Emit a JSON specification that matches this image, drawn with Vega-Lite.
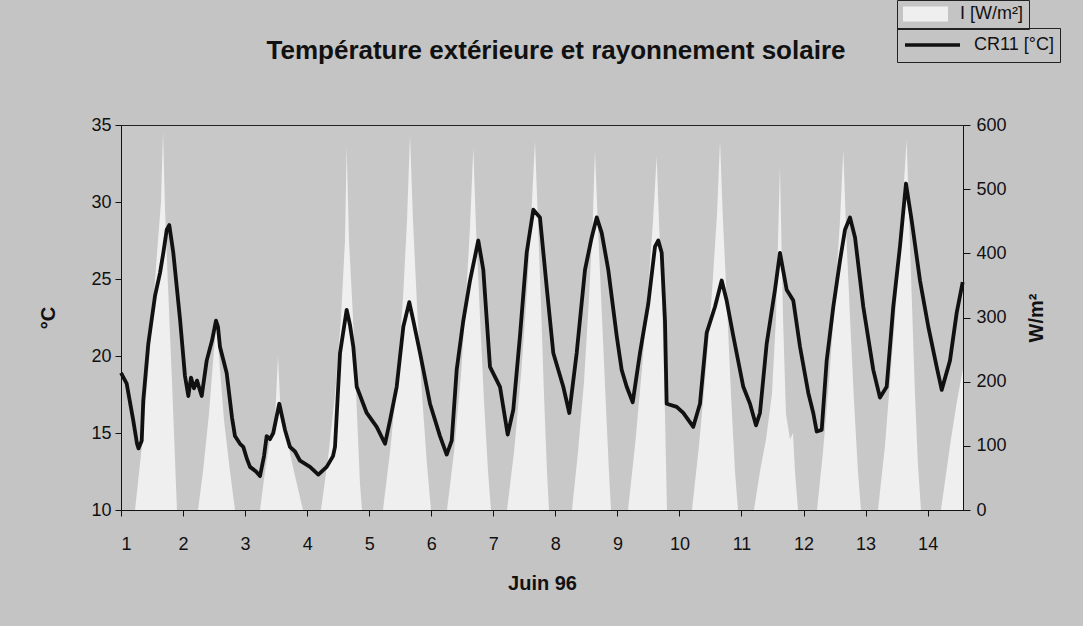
{
  "$schema": "https://vega.github.io/schema/vega-lite/v6.json",
  "autosize": {"type": "none"},
  "padding": {"left": 121, "top": 125, "right": 120, "bottom": 116},
  "width": 842,
  "height": 385,
  "background": "#c4c4c4",
  "config": {
    "view": {"stroke": "#222222", "strokeWidth": 1, "fill": "#c8c8c8"},
    "font": "Liberation Sans",
    "axis": {"grid": false, "domainColor": "#111111", "tickColor": "#111111", "labelColor": "#111111", "titleColor": "#111111", "labelFont": "Liberation Sans", "titleFont": "Liberation Sans", "labelFontSize": 18, "titleFontSize": 20, "titleFontWeight": "bold"}
  },
  "title": {"text": "Température extérieure et rayonnement solaire", "font": "Liberation Sans", "fontSize": 26, "fontWeight": "bold", "color": "#111111", "anchor": "middle", "dx": 14, "offset": 0, "baseline": "bottom", "dy": 90},
  "datasets": {
    "temp": [
      {"d": 1.000, "t": 18.9}, {"d": 1.092, "t": 18.2}, {"d": 1.198, "t": 15.8}, {"d": 1.258, "t": 14.3}, {"d": 1.282, "t": 14.0},
      {"d": 1.334, "t": 14.5}, {"d": 1.359, "t": 17.1}, {"d": 1.440, "t": 20.8}, {"d": 1.548, "t": 23.9}, {"d": 1.629, "t": 25.4},
      {"d": 1.682, "t": 26.7}, {"d": 1.737, "t": 28.2}, {"d": 1.778, "t": 28.5}, {"d": 1.843, "t": 26.7}, {"d": 1.951, "t": 22.4},
      {"d": 2.031, "t": 18.7}, {"d": 2.085, "t": 17.4}, {"d": 2.128, "t": 18.6}, {"d": 2.176, "t": 17.9}, {"d": 2.225, "t": 18.4},
      {"d": 2.301, "t": 17.4}, {"d": 2.381, "t": 19.7}, {"d": 2.467, "t": 21.0}, {"d": 2.531, "t": 22.3}, {"d": 2.563, "t": 21.9},
      {"d": 2.595, "t": 20.6}, {"d": 2.703, "t": 18.9}, {"d": 2.789, "t": 16.0}, {"d": 2.837, "t": 14.8}, {"d": 2.918, "t": 14.3},
      {"d": 2.971, "t": 14.1}, {"d": 3.031, "t": 13.3}, {"d": 3.079, "t": 12.8}, {"d": 3.176, "t": 12.5}, {"d": 3.240, "t": 12.2},
      {"d": 3.305, "t": 13.5}, {"d": 3.348, "t": 14.8}, {"d": 3.401, "t": 14.6}, {"d": 3.454, "t": 15.0}, {"d": 3.551, "t": 16.9},
      {"d": 3.643, "t": 15.2}, {"d": 3.723, "t": 14.1}, {"d": 3.804, "t": 13.8}, {"d": 3.885, "t": 13.2}, {"d": 4.046, "t": 12.8},
      {"d": 4.180, "t": 12.3}, {"d": 4.315, "t": 12.8}, {"d": 4.417, "t": 13.5}, {"d": 4.449, "t": 14.1}, {"d": 4.530, "t": 20.2},
      {"d": 4.637, "t": 23.0}, {"d": 4.691, "t": 22.0}, {"d": 4.744, "t": 20.6}, {"d": 4.799, "t": 18.0}, {"d": 4.960, "t": 16.3},
      {"d": 5.121, "t": 15.4}, {"d": 5.255, "t": 14.3}, {"d": 5.335, "t": 15.8}, {"d": 5.443, "t": 18.0}, {"d": 5.550, "t": 21.9},
      {"d": 5.646, "t": 23.5}, {"d": 5.711, "t": 22.3}, {"d": 5.819, "t": 20.2}, {"d": 5.980, "t": 16.9}, {"d": 6.141, "t": 14.8},
      {"d": 6.249, "t": 13.6}, {"d": 6.330, "t": 14.5}, {"d": 6.410, "t": 19.1}, {"d": 6.517, "t": 22.3}, {"d": 6.625, "t": 24.9},
      {"d": 6.758, "t": 27.5}, {"d": 6.839, "t": 25.6}, {"d": 6.947, "t": 19.3}, {"d": 7.108, "t": 18.0}, {"d": 7.232, "t": 14.9},
      {"d": 7.322, "t": 16.5}, {"d": 7.430, "t": 21.3}, {"d": 7.538, "t": 26.7}, {"d": 7.645, "t": 29.5}, {"d": 7.752, "t": 29.0},
      {"d": 7.860, "t": 24.5}, {"d": 7.967, "t": 20.2}, {"d": 8.128, "t": 18.0}, {"d": 8.225, "t": 16.3}, {"d": 8.344, "t": 20.2},
      {"d": 8.478, "t": 25.6}, {"d": 8.586, "t": 27.7}, {"d": 8.667, "t": 29.0}, {"d": 8.747, "t": 28.0}, {"d": 8.853, "t": 25.6},
      {"d": 8.989, "t": 21.3}, {"d": 9.069, "t": 19.1}, {"d": 9.150, "t": 18.0}, {"d": 9.247, "t": 17.0}, {"d": 9.364, "t": 20.2},
      {"d": 9.498, "t": 23.4}, {"d": 9.606, "t": 27.1}, {"d": 9.659, "t": 27.5}, {"d": 9.714, "t": 26.7}, {"d": 9.767, "t": 22.3},
      {"d": 9.794, "t": 16.9}, {"d": 9.956, "t": 16.7}, {"d": 10.062, "t": 16.3}, {"d": 10.223, "t": 15.4}, {"d": 10.331, "t": 16.9},
      {"d": 10.439, "t": 21.5}, {"d": 10.573, "t": 23.2}, {"d": 10.681, "t": 24.9}, {"d": 10.761, "t": 23.6}, {"d": 10.868, "t": 21.3},
      {"d": 11.029, "t": 18.0}, {"d": 11.137, "t": 16.9}, {"d": 11.234, "t": 15.5}, {"d": 11.298, "t": 16.3}, {"d": 11.406, "t": 20.8},
      {"d": 11.540, "t": 24.3}, {"d": 11.620, "t": 26.7}, {"d": 11.728, "t": 24.3}, {"d": 11.835, "t": 23.6}, {"d": 11.943, "t": 20.6},
      {"d": 12.077, "t": 17.6}, {"d": 12.157, "t": 16.3}, {"d": 12.212, "t": 15.1}, {"d": 12.293, "t": 15.2}, {"d": 12.373, "t": 19.7},
      {"d": 12.480, "t": 23.2}, {"d": 12.588, "t": 26.2}, {"d": 12.668, "t": 28.2}, {"d": 12.749, "t": 29.0}, {"d": 12.830, "t": 27.7},
      {"d": 12.963, "t": 23.2}, {"d": 13.124, "t": 19.1}, {"d": 13.232, "t": 17.3}, {"d": 13.340, "t": 18.0}, {"d": 13.446, "t": 23.2},
      {"d": 13.554, "t": 27.1}, {"d": 13.651, "t": 31.2}, {"d": 13.743, "t": 28.8}, {"d": 13.877, "t": 24.9}, {"d": 14.011, "t": 21.9},
      {"d": 14.146, "t": 19.3}, {"d": 14.227, "t": 17.8}, {"d": 14.360, "t": 19.7}, {"d": 14.468, "t": 22.8}, {"d": 14.565, "t": 24.8}
    ],
    "rad": [
      {"d": 1.000, "r": 0}, {"d": 1.226, "r": 0}, {"d": 1.338, "r": 100}, {"d": 1.467, "r": 250}, {"d": 1.580, "r": 400}, {"d": 1.645, "r": 480},
      {"d": 1.677, "r": 590}, {"d": 1.709, "r": 470}, {"d": 1.757, "r": 350}, {"d": 1.822, "r": 200}, {"d": 1.870, "r": 80}, {"d": 1.902, "r": 0},
      {"d": 2.241, "r": 0}, {"d": 2.322, "r": 60}, {"d": 2.418, "r": 150}, {"d": 2.499, "r": 250}, {"d": 2.539, "r": 290}, {"d": 2.579, "r": 240},
      {"d": 2.660, "r": 140}, {"d": 2.757, "r": 60}, {"d": 2.837, "r": 0},
      {"d": 3.240, "r": 0}, {"d": 3.321, "r": 60}, {"d": 3.401, "r": 110}, {"d": 3.482, "r": 140}, {"d": 3.530, "r": 240}, {"d": 3.579, "r": 140},
      {"d": 3.675, "r": 110}, {"d": 3.788, "r": 60}, {"d": 3.933, "r": 0},
      {"d": 4.223, "r": 0}, {"d": 4.336, "r": 80}, {"d": 4.449, "r": 180}, {"d": 4.546, "r": 300}, {"d": 4.610, "r": 420}, {"d": 4.637, "r": 566},
      {"d": 4.674, "r": 420}, {"d": 4.739, "r": 300}, {"d": 4.803, "r": 150}, {"d": 4.852, "r": 40}, {"d": 4.884, "r": 0},
      {"d": 5.222, "r": 0}, {"d": 5.335, "r": 90}, {"d": 5.448, "r": 200}, {"d": 5.545, "r": 330}, {"d": 5.609, "r": 450}, {"d": 5.658, "r": 584},
      {"d": 5.706, "r": 450}, {"d": 5.770, "r": 320}, {"d": 5.851, "r": 180}, {"d": 5.932, "r": 70}, {"d": 5.996, "r": 0},
      {"d": 6.254, "r": 0}, {"d": 6.367, "r": 90}, {"d": 6.479, "r": 210}, {"d": 6.560, "r": 330}, {"d": 6.624, "r": 440}, {"d": 6.678, "r": 564},
      {"d": 6.721, "r": 440}, {"d": 6.786, "r": 300}, {"d": 6.850, "r": 170}, {"d": 6.915, "r": 60}, {"d": 6.963, "r": 0},
      {"d": 7.221, "r": 0}, {"d": 7.334, "r": 90}, {"d": 7.446, "r": 210}, {"d": 7.543, "r": 340}, {"d": 7.608, "r": 450}, {"d": 7.672, "r": 575},
      {"d": 7.720, "r": 450}, {"d": 7.769, "r": 320}, {"d": 7.817, "r": 180}, {"d": 7.865, "r": 60}, {"d": 7.898, "r": 0},
      {"d": 8.268, "r": 0}, {"d": 8.365, "r": 90}, {"d": 8.462, "r": 200}, {"d": 8.542, "r": 330}, {"d": 8.599, "r": 440}, {"d": 8.639, "r": 560},
      {"d": 8.687, "r": 440}, {"d": 8.752, "r": 300}, {"d": 8.816, "r": 160}, {"d": 8.864, "r": 60}, {"d": 8.897, "r": 0},
      {"d": 9.171, "r": 0}, {"d": 9.284, "r": 100}, {"d": 9.396, "r": 220}, {"d": 9.493, "r": 340}, {"d": 9.574, "r": 450}, {"d": 9.633, "r": 551},
      {"d": 9.670, "r": 450}, {"d": 9.719, "r": 330}, {"d": 9.767, "r": 150}, {"d": 9.799, "r": 0},
      {"d": 10.202, "r": 0}, {"d": 10.315, "r": 100}, {"d": 10.428, "r": 220}, {"d": 10.525, "r": 340}, {"d": 10.605, "r": 460}, {"d": 10.654, "r": 575},
      {"d": 10.702, "r": 450}, {"d": 10.766, "r": 320}, {"d": 10.831, "r": 180}, {"d": 10.895, "r": 60}, {"d": 10.944, "r": 0},
      {"d": 11.201, "r": 0}, {"d": 11.298, "r": 60}, {"d": 11.395, "r": 110}, {"d": 11.491, "r": 180}, {"d": 11.556, "r": 300}, {"d": 11.620, "r": 535},
      {"d": 11.669, "r": 300}, {"d": 11.717, "r": 150}, {"d": 11.782, "r": 110}, {"d": 11.830, "r": 120}, {"d": 11.862, "r": 60}, {"d": 11.911, "r": 0},
      {"d": 12.217, "r": 0}, {"d": 12.313, "r": 90}, {"d": 12.410, "r": 200}, {"d": 12.507, "r": 330}, {"d": 12.587, "r": 450}, {"d": 12.641, "r": 561},
      {"d": 12.684, "r": 440}, {"d": 12.749, "r": 300}, {"d": 12.813, "r": 170}, {"d": 12.877, "r": 60}, {"d": 12.926, "r": 0},
      {"d": 13.200, "r": 0}, {"d": 13.313, "r": 100}, {"d": 13.409, "r": 220}, {"d": 13.506, "r": 340}, {"d": 13.587, "r": 460}, {"d": 13.662, "r": 577},
      {"d": 13.699, "r": 460}, {"d": 13.748, "r": 320}, {"d": 13.796, "r": 180}, {"d": 13.844, "r": 70}, {"d": 13.893, "r": 0},
      {"d": 14.215, "r": 0}, {"d": 14.360, "r": 100}, {"d": 14.473, "r": 170}, {"d": 14.570, "r": 220}
    ]
  },
  "layer": [
    {
      "data": {"name": "rad"},
      "mark": {"type": "area", "interpolate": "linear", "strokeWidth": 0},
      "encoding": {
        "x": {
          "field": "d", "type": "quantitative",
          "scale": {"domain": [1, 14.57], "nice": false, "zero": false},
          "axis": {"values": [1,2,3,4,5,6,7,8,9,10,11,12,13,14], "format": "d", "tickSize": 6, "labelPadding": 19, "title": "Juin 96", "titlePadding": 20}
        },
        "y": {
          "field": "r", "type": "quantitative",
          "scale": {"domain": [0, 600], "nice": false, "zero": true},
          "axis": {"orient": "right", "values": [0,100,200,300,400,500,600], "tickSize": 7, "labelPadding": 6, "title": "W/m²", "titleAngle": 270, "titlePadding": 40}
        },
        "fill": {
          "datum": "I [W/m²]", "type": "nominal",
          "scale": {"domain": ["I [W/m²]"], "range": ["#efefef"]},
          "legend": {"orient": "none", "legendX": 776, "legendY": -125, "title": null, "symbolType": "M-1,-0.33H1V0.33H-1Z", "symbolSize": 2025, "symbolStrokeWidth": 0, "labelFont": "Liberation Sans", "labelFontSize": 18, "labelColor": "#111111", "strokeColor": "#222222", "padding": 6, "clipHeight": 16, "labelOffset": 12}
        }
      }
    },
    {
      "data": {"name": "temp"},
      "mark": {"type": "line", "strokeWidth": 3.8, "strokeJoin": "round", "interpolate": "linear"},
      "encoding": {
        "x": {"field": "d", "type": "quantitative"},
        "y": {
          "field": "t", "type": "quantitative",
          "scale": {"domain": [10, 35], "nice": false, "zero": false},
          "axis": {"orient": "left", "values": [10,15,20,25,30,35], "tickSize": 6, "labelPadding": 4, "title": "°C", "titlePadding": 32}
        },
        "stroke": {
          "datum": "CR11 [°C]", "type": "nominal",
          "scale": {"domain": ["CR11 [°C]"], "range": ["#111111"]},
          "legend": {"orient": "none", "legendX": 776, "legendY": -97, "title": null, "symbolType": "stroke", "symbolSize": 3025, "symbolStrokeWidth": 3.5, "labelFont": "Liberation Sans", "labelFontSize": 18, "labelColor": "#111111", "strokeColor": "#222222", "padding": 6, "clipHeight": 22, "labelOffset": 12}
        }
      }
    }
  ],
  "resolve": {"scale": {"y": "independent"}}
}
